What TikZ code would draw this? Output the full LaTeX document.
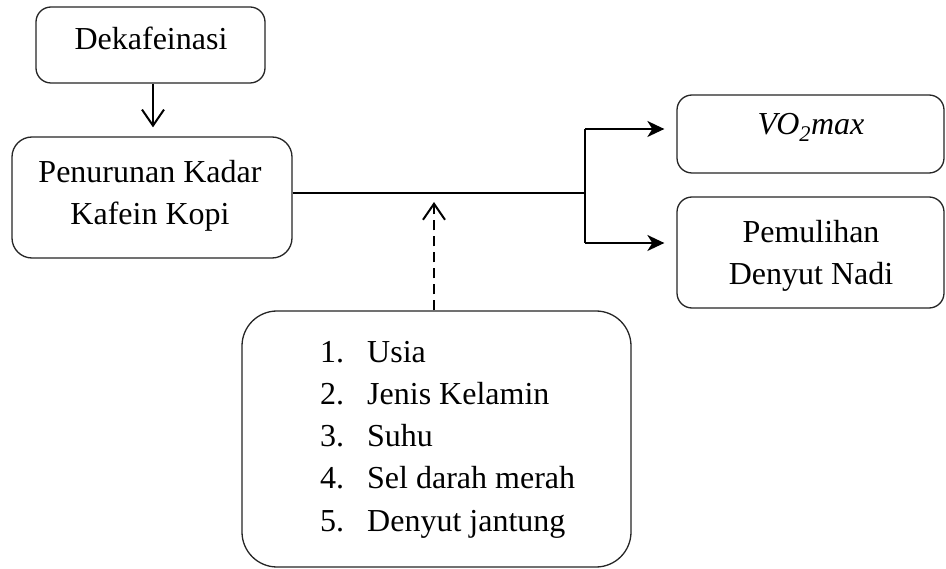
\documentclass[tikz,border=0pt]{standalone}
\usepackage{fontspec}
\setmainfont{Liberation Serif}
\usetikzlibrary{arrows.meta}
\begin{document}
\begin{tikzpicture}[x=1pt,y=-1pt,
  font=\fontsize{32}{42}\selectfont,
  box/.style={draw=black!85, line width=1.3pt, inner sep=0pt, fill=none},
  txt/.style={anchor=base, inner sep=0pt},
  conn/.style={line width=2pt, black},
  openhead/.style={-{Straight Barb[length=16pt,width=22pt,line width=2pt]}},
  solidhead/.style={-{Stealth[length=17pt,width=16pt,inset=5pt]}},
]
\useasboundingbox[fill=white] (0,0) rectangle (946,569);
% boxes
\node[box, rounded corners=15pt, minimum width=229pt, minimum height=76pt] (dek) at (150.5,45) {};
\node[box, rounded corners=20pt, minimum width=280pt, minimum height=121pt] (pen) at (152,197.5) {};
\node[box, rounded corners=15pt, minimum width=267pt, minimum height=78pt] (vo) at (810.5,134) {};
\node[box, rounded corners=15pt, minimum width=267pt, minimum height=111pt] (pem) at (810.5,252.5) {};
\node[box, rounded corners=35pt, minimum width=389pt, minimum height=256pt] (fac) at (436.5,439) {};
% texts
\node[txt] (dektxt) at (151,50) {Dekafeinasi};
\node[txt] (pen1) at (150,183) {Penurunan Kadar};
\node[txt] (pen2) at (150,225) {Kafein Kopi};
\node[txt] (votxt) at (811,135) {\textit{VO\textsubscript{2}max}};
\node[txt] (pem1) at (811,243) {Pemulihan};
\node[txt] (pem2) at (811,285) {Denyut Nadi};
\foreach \i/\t [count=\k] in {1/Usia,2/Jenis Kelamin,3/Suhu,4/Sel darah merah,5/Denyut jantung}{
  \node[txt, anchor=base west] (num\k) at (320,{363+42*(\k-1)}) {\i.};
  \node[txt, anchor=base west] (item\k) at (367,{363+42*(\k-1)}) {\t};
}
% connectors
\draw[conn, openhead] ([xshift=2.5pt]dek.south) -- ([xshift=1pt,yshift=9pt]pen.north);
\coordinate (jt) at (585,129);
\coordinate (jb) at (585,243);
\draw[conn] ([yshift=4.5pt]pen.east) -- (585,193);
\draw[conn] (jt) -- (jb);
\draw[conn, solidhead] (jt) -- ([xshift=-12pt,yshift=5pt]vo.west);
\draw[conn, solidhead] (jb) -- ([xshift=-12pt,yshift=9.5pt]pem.west);
\coordinate (dt) at (434,202);
\draw[conn, dash pattern=on 10pt off 6pt, openhead] ([xshift=-2.5pt]fac.north) -- (dt);
\end{tikzpicture}
\end{document}
